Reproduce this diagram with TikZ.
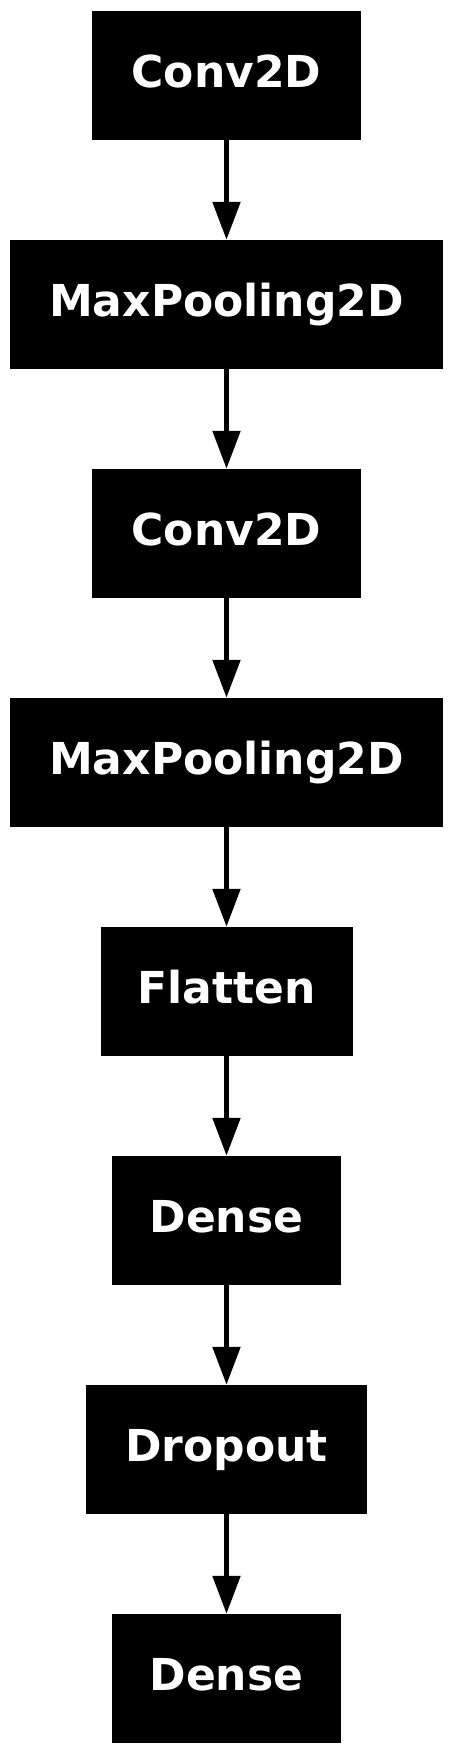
\documentclass[tikz,border=0pt]{standalone}
\usepackage{fontspec}
\setmainfont{DejaVu Sans}
\usetikzlibrary{arrows.meta}
\tikzset{
  layer/.style={fill=black, draw=none, inner sep=0pt, minimum height=129pt,
    text=white, font=\fontsize{44}{52}\selectfont\bfseries,
    text height=32pt, text depth=8pt},
  conn/.style={line width=5.3pt, -{Triangle[length=38pt,width=27pt]}}
}
\begin{document}
\begin{tikzpicture}
\useasboundingbox (0,0) rectangle (453pt,-1756pt);
\node[layer, minimum width=269pt] (c1) at (226.5pt,-75.5pt) {Conv2D};
\node[layer, minimum width=433pt] (m1) at (226.5pt,-304.5pt) {MaxPooling2D};
\node[layer, minimum width=269pt] (c2) at (226.5pt,-533.5pt) {Conv2D};
\node[layer, minimum width=433pt] (m2) at (226.5pt,-762.5pt) {MaxPooling2D};
\node[layer, minimum width=252pt] (fl) at (226.5pt,-991.5pt) {Flatten};
\node[layer, minimum width=229pt] (d1) at (226.5pt,-1220.5pt) {Dense};
\node[layer, minimum width=281pt] (dr) at (226.5pt,-1449.5pt) {Dropout};
\node[layer, minimum width=229pt] (d2) at (226.5pt,-1678.5pt) {Dense};
\foreach \a/\b in {c1/m1, m1/c2, c2/m2, m2/fl, fl/d1, d1/dr, dr/d2}
  \draw[conn] (\a.south) -- (\b.north);
\end{tikzpicture}
\end{document}
